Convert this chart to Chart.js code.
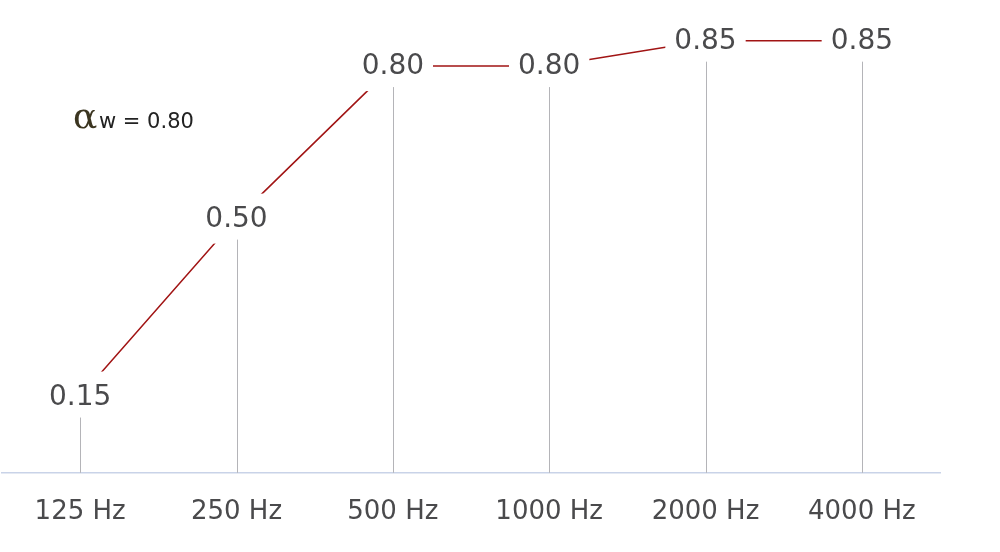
<!DOCTYPE html>
<html>
<head>
<meta charset="utf-8">
<script src="https://cdn.jsdelivr.net/npm/chart.js@4/dist/chart.umd.min.js"></script>
<style>
  html, body { margin: 0; padding: 0; background: #fff; }
  #wrap { width: 1000px; height: 552px; }
</style>
</head>
<body>
<div id="wrap"><canvas id="chart" width="1000" height="552"></canvas></div>
<script>
const bands = ['125 Hz', '250 Hz', '500 Hz', '1000 Hz', '2000 Hz', '4000 Hz'];
const absorption = [0.15, 0.50, 0.80, 0.80, 0.85, 0.85];
const ratingLabel = 'w = 0.80';

const FONT = '"DejaVu Sans", sans-serif';

// value labels sit on the points, with a white box that cuts the red line
const valueLabels = {
  id: 'valueLabels',
  afterDatasetsDraw(chart) {
    const ctx = chart.ctx;
    const meta = chart.getDatasetMeta(0);
    const bottom = chart.chartArea.bottom;
    ctx.save();
    ctx.font = '28px ' + FONT;
    ctx.textAlign = 'center';
    ctx.textBaseline = 'middle';
    meta.data.forEach((pt, i) => {
      const txt = absorption[i].toFixed(2);
      const w = ctx.measureText(txt).width / 2 + 9;
      ctx.fillStyle = '#fff';
      ctx.fillRect(pt.x - w, pt.y - 25, w * 2, 50);
      // drop line to the axis
      ctx.strokeStyle = '#b4b4b8';
      ctx.lineWidth = 1;
      ctx.beginPath();
      ctx.moveTo(Math.round(pt.x) + 0.5, pt.y + 21);
      ctx.lineTo(Math.round(pt.x) + 0.5, bottom);
      ctx.stroke();
      ctx.fillStyle = '#4a4a4c';
      ctx.fillText(txt, pt.x, pt.y + 1);
    });

    // alpha_w note
    ctx.textAlign = 'left';
    ctx.textBaseline = 'alphabetic';
    ctx.fillStyle = '#3b3520';
    ctx.font = '36px "DejaVu Serif", serif';
    ctx.fillText('α', 73, 128);
    ctx.fillStyle = '#222';
    ctx.font = '21px ' + FONT;
    ctx.fillText(ratingLabel, 99, 128);
    ctx.restore();
  }
};

new Chart(document.getElementById('chart'), {
  type: 'line',
  data: {
    labels: bands,
    datasets: [{
      data: absorption,
      borderColor: '#a11414',
      borderWidth: 1.5,
      pointRadius: 0,
      tension: 0,
      fill: false,
    }]
  },
  options: {
    responsive: false,
    animation: false,
    layout: { padding: { left: 2, right: 60, top: 0, bottom: 0 } },
    plugins: {
      legend: { display: false },
      tooltip: { enabled: false },
    },
    scales: {
      x: {
        offset: true,
        grid: { display: false, drawTicks: false },
        border: { display: true, color: '#c9d3e8', width: 1.5 },
        ticks: {
          padding: 24,
          color: '#4a4a4c',
          font: { family: FONT, size: 26 },
        }
      },
      y: {
        display: false,
        min: 0,
        max: 0.93,
      }
    }
  },
  plugins: [valueLabels]
});
</script>
</body>
</html>
